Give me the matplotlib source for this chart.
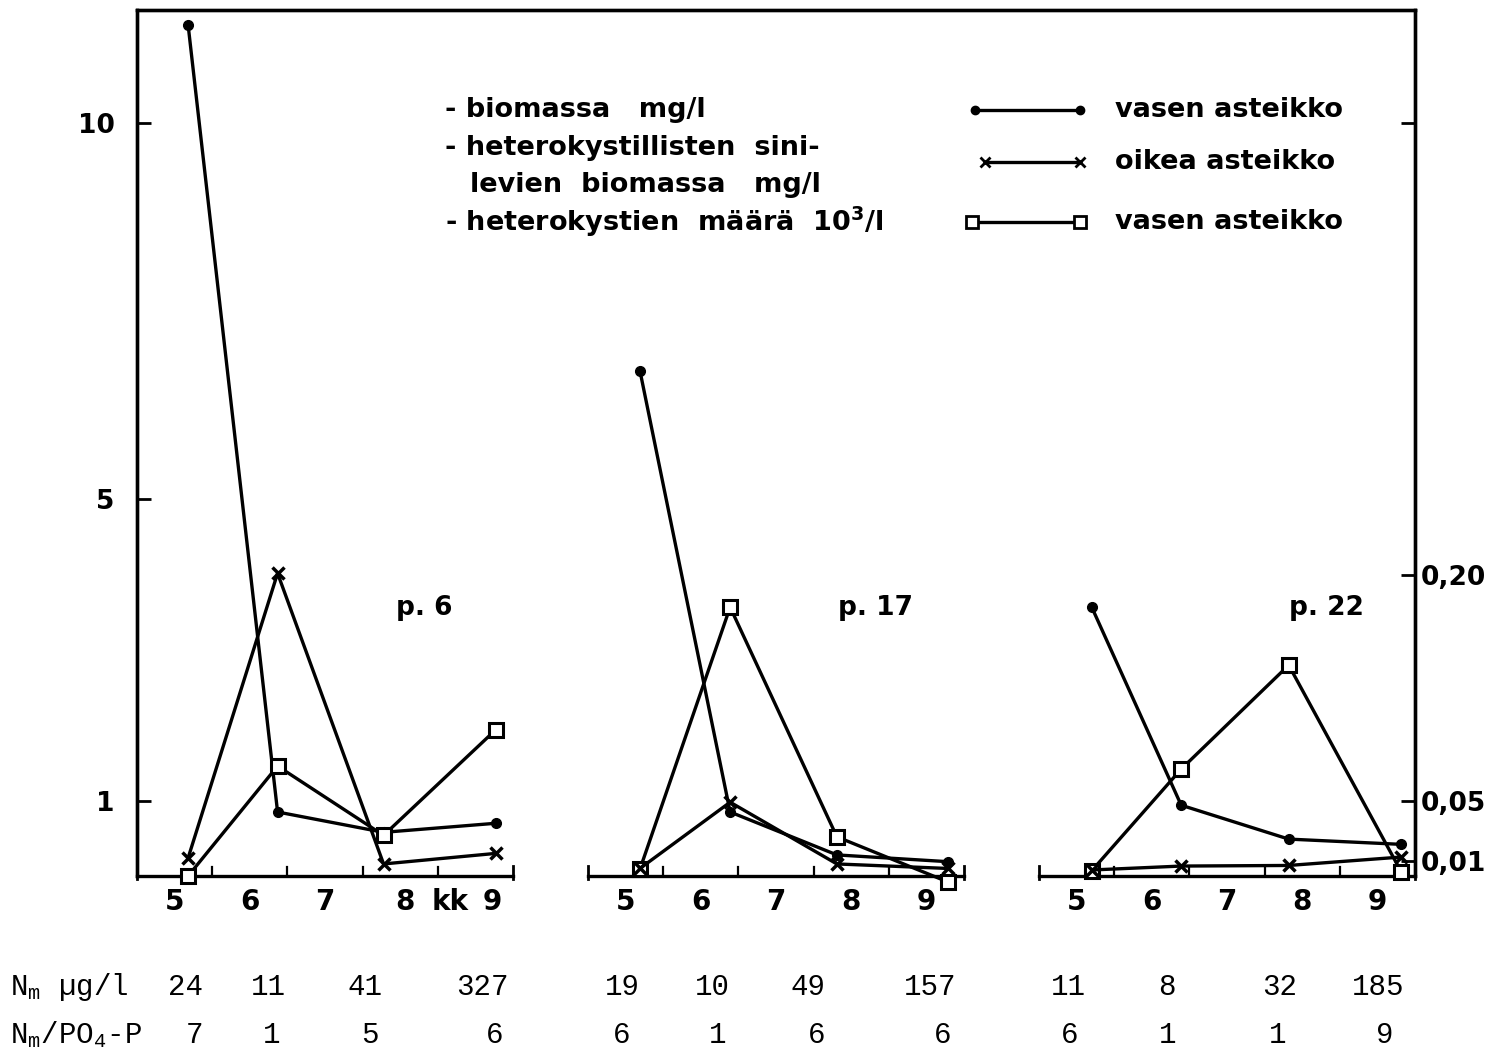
import matplotlib
matplotlib.use("Agg")
import matplotlib.pyplot as plt
from matplotlib.lines import Line2D

# ---------------- data ----------------
panel_names = ["p. 6", "p. 17", "p. 22"]
months = [5, 6, 7, 8, 9]

# sampling dates (month + fraction) per station
dates_p6 = [5.68, 6.87, 8.28, 9.77]
dates_p17 = [5.69, 6.89, 8.31, 9.79]
dates_p22 = [5.70, 6.89, 8.32, 9.82]

# total biomass mg/l (left scale)
biomass_p6 = [11.30, 0.85, 0.58, 0.70]
biomass_p17 = [6.71, 0.85, 0.28, 0.19]
biomass_p22 = [3.57, 0.94, 0.49, 0.42]

# biomass of heterocystous blue-greens mg/l (right scale)
hetbio_p6 = [0.012, 0.201, 0.008, 0.015]
hetbio_p17 = [0.005, 0.049, 0.008, 0.005]
hetbio_p22 = [0.004, 0.0066, 0.007, 0.0126]

# heterocyst count 10^3/l (left scale)
hetcnt_p6 = [0.0, 1.46, 0.54, 1.94]
hetcnt_p17 = [0.09, 3.57, 0.52, -0.08]
hetcnt_p22 = [0.07, 1.42, 2.80, 0.05]

left_ticks = [1, 5, 10]
left_ticklabels = ["1", "5", "10"]
right_ticks = [0.01, 0.05, 0.20, 0.50]
right_ticklabels = ["0,01", "0,05", "0,20", ""]

nm_values = ["24", "11", "41", "327", "19", "10", "49", "157", "11", "8", "32", "185"]
ratio_values = ["7", "1", "5", "6", "6", "1", "6", "6", "6", "1", "1", "9"]

# ---------------- layout ----------------
W, H = 1492, 1064
def fx(px):
    return px / W
def fy(py):
    return 1 - py / H

fig = plt.figure(figsize=(W / 100, H / 100), dpi=100)
ax = fig.add_axes([fx(137), fy(876), fx(1415) - fx(137), fy(10) - fy(876)])
ax.set_xlim(5, 22)
ax.set_ylim(0, 11.5)
ax2 = ax.twinx()
ax2.set_ylim(0, 0.575)

LW = 2.4
for a in (ax, ax2):
    a.spines["bottom"].set_visible(False)
    for s in ("left", "right", "top"):
        a.spines[s].set_linewidth(LW)
ax.set_xticks([])

bold = dict(fontweight="bold", family="DejaVu Sans")

ax.set_yticks(left_ticks)
ax.set_yticklabels(left_ticklabels, fontsize=19, **bold)
ax.tick_params(axis="y", direction="in", length=10, width=2, pad=16)
ax2.set_yticks(right_ticks)
ax2.set_yticklabels(right_ticklabels, fontsize=19, **bold)
ax2.tick_params(axis="y", direction="in", length=10, width=2, pad=4)

offsets = [0, 6, 12]
dates = [dates_p6, dates_p17, dates_p22]
biom = [biomass_p6, biomass_p17, biomass_p22]
hetb = [hetbio_p6, hetbio_p17, hetbio_p22]
hetc = [hetcnt_p6, hetcnt_p17, hetcnt_p22]

for i, off in enumerate(offsets):
    x = [d + off for d in dates[i]]
    # baseline segment with month boundary ticks
    ax.plot([off + 5, off + 10], [0, 0], color="k", lw=LW, clip_on=False, zorder=2)
    for m in range(6, 10):
        ax.plot([off + m, off + m], [0, 0.12], color="k", lw=1.6, clip_on=False, zorder=2)
    for m in (5, 10):
        ax.plot([off + m, off + m], [-0.04, 0.13], color="k", lw=2, clip_on=False, zorder=2)
    # series
    ax.plot(x, biom[i], color="k", lw=LW, marker="o", ms=7, clip_on=False, zorder=3)
    ax2.plot(x, hetb[i], color="k", lw=LW, marker="x", ms=9, mew=2.5, clip_on=False, zorder=3)
    ax.plot(x, hetc[i], color="k", lw=LW, marker="s", ms=10.5, mfc="white", mec="k",
            mew=2.2, clip_on=False, zorder=4)
    # month labels
    for m in months:
        xm = off + m + 0.5
        if i == 0 and m == 8:
            xm = off + 8.56
        if i == 0 and m == 9:
            xm = off + 9.73
        ax.text(xm, -0.345, str(m), ha="center", va="center", fontsize=20, **bold)
    if i == 0:
        ax.text(off + 9.16, -0.345, "kk", ha="center", va="center", fontsize=20, **bold)
    # panel name
    ax.text(off + 8.82, 3.56, panel_names[i], ha="center", va="center", fontsize=19, **bold)

ax2.set_zorder(ax.get_zorder() + 1)
ax2.patch.set_visible(False)

# ---------------- legend block ----------------
leg_fs = 19.5
fig.text(fx(445), fy(110), "- biomassa   mg/l", ha="left", va="center", fontsize=leg_fs, **bold)
fig.text(fx(445), fy(148), "- heterokystillisten  sini-", ha="left", va="center", fontsize=leg_fs, **bold)
fig.text(fx(470), fy(185), "levien  biomassa   mg/l", ha="left", va="center", fontsize=leg_fs, **bold)
fig.text(fx(445), fy(222), "- heterokystien  määrä  10$^\\mathbf{3}$/l", ha="left", va="center",
         fontsize=leg_fs, **bold)

samples = [
    (110, 975, dict(marker="o", ms=6, mfc="k"), "vasen asteikko"),
    (162, 985, dict(marker="x", ms=7, mew=2), "oikea asteikko"),
    (222, 972, dict(marker="s", ms=8, mfc="white", mew=2), "vasen asteikko"),
]
for py, x0, mk, lab in samples:
    fig.add_artist(Line2D([fx(x0), fx(1080)], [fy(py), fy(py)], color="k", lw=2.4,
                          markevery=[0, 1], mec="k", **mk))
    fig.text(fx(1115), fy(py), lab, ha="left", va="center", fontsize=leg_fs, **bold)

# ---------------- bottom table ----------------
mono = dict(family="Liberation Mono", fontsize=21)
fig.text(fx(10), fy(987), "N$_\\mathregular{m}$ µg/l", ha="left", va="center", **mono)
fig.text(fx(10), fy(1035), "N$_\\mathregular{m}$/PO$_\\mathregular{4}$-P", ha="left", va="center", **mono)
nm_x = [185, 268, 365, 482, 622, 712, 808, 930, 1068, 1167, 1280, 1378]
ratio_x = [195, 272, 370, 495, 622, 718, 817, 943, 1070, 1168, 1278, 1385]
for v, px in zip(nm_values, nm_x):
    fig.text(fx(px), fy(987), v, ha="center", va="center", **mono)
for v, px in zip(ratio_values, ratio_x):
    fig.text(fx(px), fy(1035), v, ha="center", va="center", **mono)

fig.savefig("out.png", dpi=100)
